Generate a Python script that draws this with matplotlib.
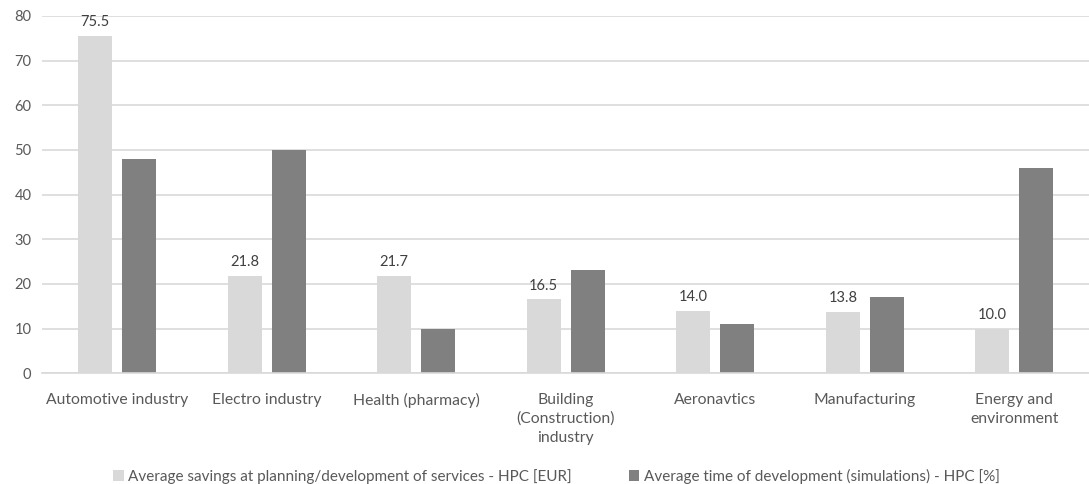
import numpy as np
import matplotlib
matplotlib.use("Agg")
import matplotlib.pyplot as plt

plt.rcParams["font.family"] = ["Lato", "DejaVu Sans"]

categories = ["Automotive industry", "Electro industry", "Health (pharmacy)",
              "Building\n(Construction)\nindustry", "Aeronavtics", "Manufacturing",
              "Energy and\nenvironment"]
savings = [75.5, 21.8, 21.7, 16.5, 14.0, 13.8, 10.0]
dev_time = [48, 50, 10, 23, 11, 17, 46]
labels = ["Average savings at planning/development of services - HPC [EUR]",
          "Average time of development (simulations) - HPC [%]"]

light, dark = "#d9d9d9", "#808080"
txt = "#595959"

fig = plt.figure(figsize=(10.89, 4.84), dpi=100)
ax = fig.add_axes([0.039, 0.229, 0.961, 0.738])

x = np.arange(len(categories))
w = 0.23
off = 0.147
b1 = ax.bar(x - off, savings, w, color=light, label=labels[0], zorder=2)
b2 = ax.bar(x + off, dev_time, w, color=dark, label=labels[1], zorder=2)

for xi, v in zip(x - off, savings):
    ax.annotate(f"{v:.1f}", (xi, v), xytext=(0, 5), textcoords="offset points",
                ha="center", va="bottom", fontsize=10.5, color="#404040")

ax.set_xlim(-0.5, len(categories) - 0.5)
ax.set_ylim(0, 80)
ax.set_yticks(range(0, 81, 10))
ax.yaxis.grid(True, color="#d9d9d9", linewidth=1.2, zorder=0)
ax.set_axisbelow(True)
for s in ["top", "right", "left"]:
    ax.spines[s].set_visible(False)
ax.spines["bottom"].set_color("#d9d9d9")
ax.spines["bottom"].set_linewidth(1.2)
ax.tick_params(axis="y", length=0, labelsize=10.5, colors=txt, pad=8)
ax.tick_params(axis="x", length=0, labelsize=11.3, colors=txt, pad=14)
ax.set_xticks(x)
ax.set_xticklabels(categories, linespacing=1.45)

fig.legend(handles=[b1, b2], labels=labels, loc="center",
           bbox_to_anchor=(0.511, 0.0165), ncol=2, frameon=False, fontsize=11,
           labelcolor=txt, handlelength=0.7, handleheight=0.7, handletextpad=0.3,
           columnspacing=3.7, borderpad=0)

fig.savefig("out.png", dpi=100)
